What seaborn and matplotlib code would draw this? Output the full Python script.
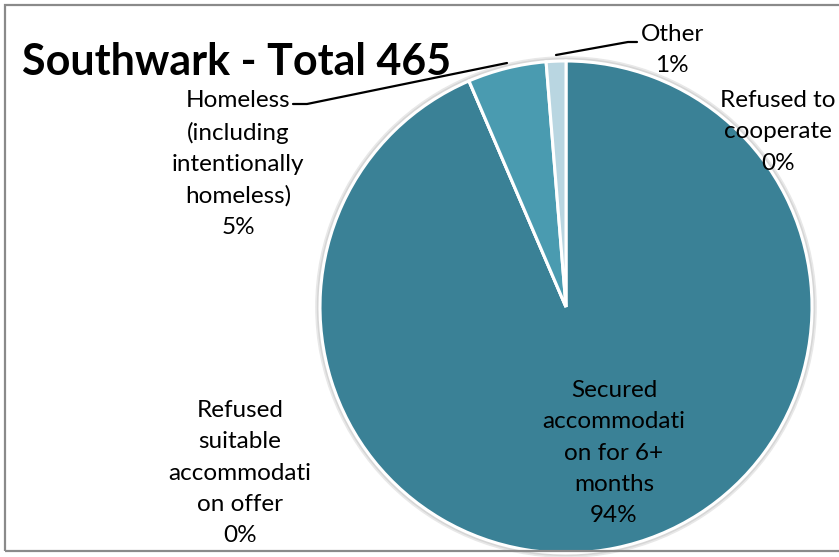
import matplotlib
matplotlib.use("Agg")
import matplotlib.pyplot as plt
from matplotlib.patches import Circle, Rectangle
import seaborn as sns

# Outcomes for Southwark, in the order they run clockwise from 12 o'clock
categories = [
    "Refused to\ncooperate",
    "Secured\naccommodati\non for 6+\nmonths",
    "Refused\nsuitable\naccommodati\non offer",
    "Homeless\n(including\nintentionally\nhomeless)",
    "Other",
]
counts = [0, 435, 0, 24, 6]
slice_colors = ["#2E6F85", "#3A8196", "#2E6F85", "#4A9BB0", "#B9D6E1"]
explode = [0.0, 0.0, 0.0, 0.025, 0.025]
title_text = "Southwark - Total 465"

sns.set_theme(style="white")
plt.rcParams["font.family"] = ["Lato", "DejaVu Sans"]

W, H = 839, 557
fig = plt.figure(figsize=(W / 100, H / 100), dpi=100)
ax = fig.add_axes([0, 0, 1, 1])
ax.set_xlim(0, W)
ax.set_ylim(0, H)
ax.set_aspect("equal")
ax.axis("off")

# chart frame
fig.patches.append(Rectangle((5 / W, 6 / H), 1.2, (H - 11) / H, transform=fig.transFigure,
                             fill=False, edgecolor="#8a8a8a", linewidth=1.6, zorder=0))

cx, cy, r = 566, H - 307, 246
total = sum(counts)

# soft bevel rim around the pie
ax.add_patch(Circle((cx, cy), r + 4, facecolor="#d6d6d6", edgecolor="#e8e8e8", linewidth=1.2, zorder=1))

wedges, _ = ax.pie(counts, colors=slice_colors, startangle=90, counterclock=False,
                   center=(cx, cy), radius=r, explode=explode, normalize=True,
                   wedgeprops=dict(edgecolor="white", linewidth=2.2, zorder=2))
for w in wedges:
    w.set_zorder(2)

ax.set_xlim(0, W)
ax.set_ylim(0, H)

pct = [round(c / total * 100) for c in counts]
labels = [f"{c}\n{p}%" for c, p in zip(categories, pct)]

# label anchors (centre of each text block)
label_pos = [(778, 132), (614, 453), (240, 473), (238, 164), (672, 50)]
for lab, (lx, ly) in zip(labels, label_pos):
    ax.text(lx, H - ly, lab, ha="center", va="center", fontsize=17.5,
            linespacing=1.6, color="black", zorder=5)

# leader lines
ax.plot([293, 307, 507], [H - 104, H - 104, H - 63], color="black", lw=1.6, zorder=4)
ax.plot([556, 628, 637], [H - 55, H - 42, H - 42], color="black", lw=1.6, zorder=4)

ax.text(22, H - 62, title_text, ha="left", va="center", fontsize=31,
        fontweight="bold", color="black", zorder=6)

fig.savefig("out.png", dpi=100, facecolor="white")
